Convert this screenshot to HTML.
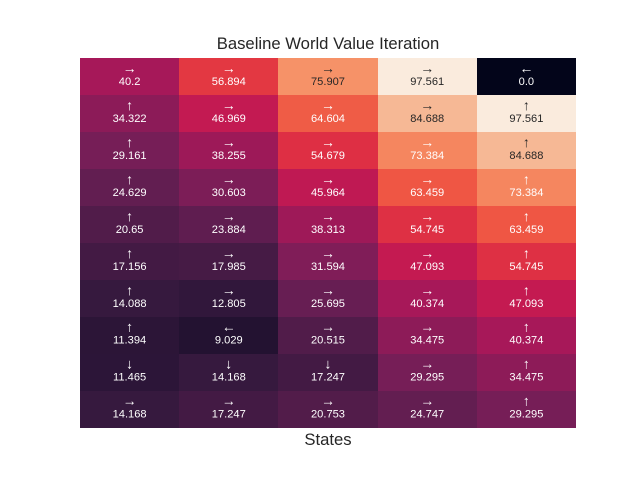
<!DOCTYPE html>
<html>
<head>
<meta charset="utf-8">
<style>
html,body{margin:0;padding:0;background:#fff;}
svg{display:block;font-family:"Liberation Sans",Arial,sans-serif;}
</style>
</head>
<body>
<svg id="chart" xmlns="http://www.w3.org/2000/svg" width="640" height="480" viewBox="0 0 640 480">
<text x="328" y="49" text-anchor="middle" font-size="16.67" fill="#262626">Baseline World Value Iteration</text>
<g id="cells"></g>
<text x="328" y="445" text-anchor="middle" font-size="16.67" fill="#262626">States</text>
</svg>
<script>
const values = [
  [40.2, 56.894, 75.907, 97.561, 0.0],
  [34.322, 46.969, 64.604, 84.688, 97.561],
  [29.161, 38.255, 54.679, 73.384, 84.688],
  [24.629, 30.603, 45.964, 63.459, 73.384],
  [20.65, 23.884, 38.313, 54.745, 63.459],
  [17.156, 17.985, 31.594, 47.093, 54.745],
  [14.088, 12.805, 25.695, 40.374, 47.093],
  [11.394, 9.029, 20.515, 34.475, 40.374],
  [11.465, 14.168, 17.247, 29.295, 34.475],
  [14.168, 17.247, 20.753, 24.747, 29.295]
];
const arrows = [
  ['→','→','→','→','←'],
  ['↑','→','→','→','↑'],
  ['↑','→','→','→','↑'],
  ['↑','→','→','→','↑'],
  ['↑','→','→','→','↑'],
  ['↑','→','→','→','↑'],
  ['↑','→','→','→','↑'],
  ['↑','←','→','→','↑'],
  ['↓','↓','↓','→','↑'],
  ['→','→','→','→','↑']
];
const colorStops = [
  [0.0,[3,5,26]],[0.143,[53,25,62]],[0.286,[112,31,87]],[0.429,[173,23,89]],[0.5,[203,27,79]],
  [0.571,[225,51,66]],[0.643,[238,82,66]],[0.714,[243,118,81]],[0.786,[246,149,107]],[0.857,[246,180,143]],[1.0,[250,235,221]]
];
const NS = 'http://www.w3.org/2000/svg';
const plot = {left:80, top:58, width:496, height:369.6};
const maxValue = Math.max(...values.flat());
const minValue = Math.min(...values.flat());
const rowCount = values.length;
const colCount = values[0].length;
function xScale(c){ return plot.left + c * plot.width / colCount; }
function yScale(r){ return plot.top + r * plot.height / rowCount; }
function colorFor(v){
  const t = (v - minValue) / (maxValue - minValue);
  for (let i = 1; i < colorStops.length; i++) {
    if (t <= colorStops[i][0]) {
      const a = colorStops[i-1], b = colorStops[i];
      const f = (t - a[0]) / (b[0] - a[0]);
      return a[1].map((x, k) => Math.round(x + (b[1][k] - x) * f));
    }
  }
  return colorStops[colorStops.length-1][1];
}
function luminance(rgb){
  const l = rgb.map(x => { x /= 255; return x <= 0.03928 ? x / 12.92 : Math.pow((x + 0.055) / 1.055, 2.4); });
  return 0.2126 * l[0] + 0.7152 * l[1] + 0.0722 * l[2];
}
const group = document.getElementById('cells');
values.forEach((row, r) => {
  row.forEach((v, c) => {
    const rgb = colorFor(v);
    const x0 = Math.round(xScale(c)), x1 = Math.round(xScale(c + 1)), y0 = Math.round(yScale(r)), y1 = Math.round(yScale(r + 1));
    const rect = document.createElementNS(NS, 'rect');
    
    
    rect.setAttribute('x', x0);
    rect.setAttribute('y', y0);
    rect.setAttribute('width', x1 - x0);
    rect.setAttribute('height', y1 - y0);
    rect.setAttribute('fill', 'rgb(' + rgb.join(',') + ')');
    rect.setAttribute('shape-rendering', 'crispEdges');
    group.appendChild(rect);
    const ink = luminance(rgb) > 0.408 ? '#262626' : '#ffffff';
    const cx = (xScale(c) + xScale(c + 1)) / 2;
    const cy = yScale(r);
    const arrow = document.createElementNS(NS, 'text');
    
    
    arrow.setAttribute('x', cx);
    arrow.setAttribute('y', cy + 15);
    arrow.setAttribute('text-anchor', 'middle');
    arrow.setAttribute('font-size', '14');
    arrow.setAttribute('fill', ink);
    arrow.textContent = arrows[r][c];
    group.appendChild(arrow);
    const label = document.createElementNS(NS, 'text');
    
    
    label.setAttribute('x', cx);
    label.setAttribute('y', cy + 27);
    label.setAttribute('text-anchor', 'middle');
    label.setAttribute('font-size', '11.11');
    label.setAttribute('fill', ink);
    label.textContent = Number.isInteger(v) ? v.toFixed(1) : String(v);
    group.appendChild(label);
  });
});
</script>
</body>
</html>
